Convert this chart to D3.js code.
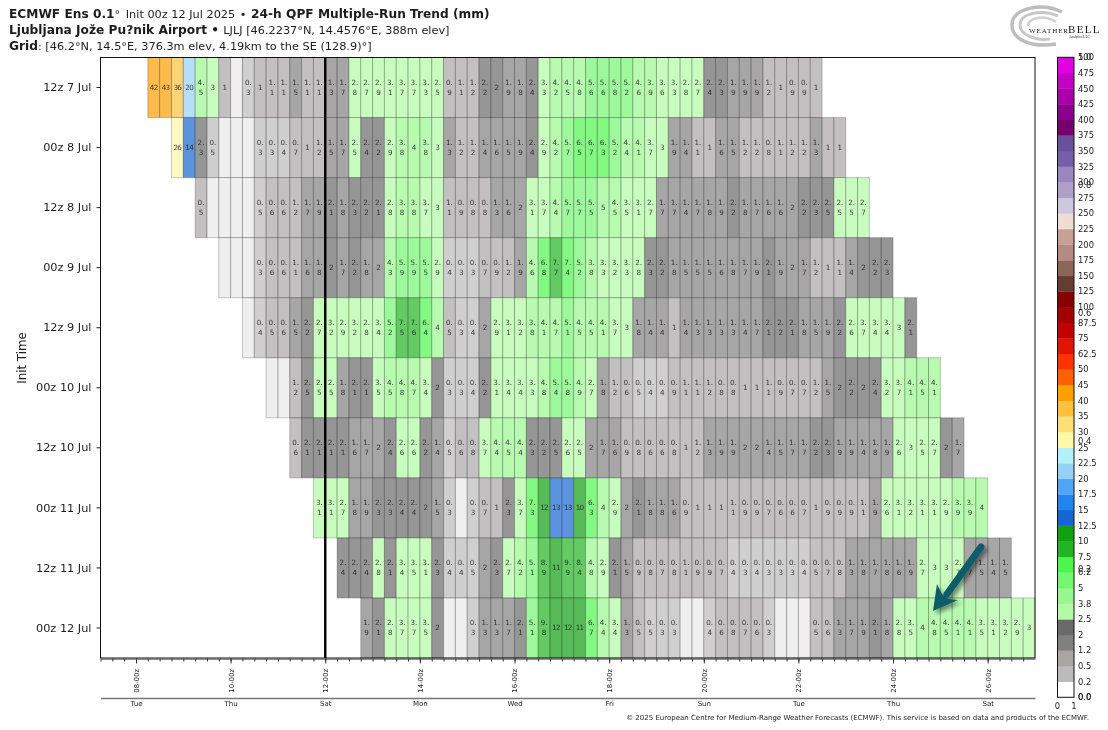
<!DOCTYPE html>
<html>
<head>
<meta charset="utf-8">
<script src="https://cdn.jsdelivr.net/npm/d3@7"></script>
<style>
  html, body { margin: 0; padding: 0; background: #fff; }
  svg { display: block; opacity: 0.999; }
  text { font-family: "DejaVu Sans", sans-serif; fill: #1c1c1c; }
</style>
</head>
<body>
<div id="chart"></div>
<script>
// init runs, newest at the bottom
var runLabels = ["12z 7 Jul", "00z 8 Jul", "12z 8 Jul", "00z 9 Jul", "12z 9 Jul", "00z 10 Jul", "12z 10 Jul", "00z 11 Jul", "12z 11 Jul", "00z 12 Jul"];
var runInits = ["2025-07-07T12", "2025-07-08T00", "2025-07-08T12", "2025-07-09T00", "2025-07-09T12", "2025-07-10T00", "2025-07-10T12", "2025-07-11T00", "2025-07-11T12", "2025-07-12T00"];

// 24-h QPF in mm, one value per 6-hourly step. 0.1 = trace, drawn with no label
var qpf12z07 = [42,43,36,20,4.5,3,1,0.1,0.3,1,1.1,1.1,1.5,1.1,1.1,1.3,1.7,2.8,2.7,2.9,3.1,3.7,3.7,3.3,2.5,0.9,1.1,1.2,2.2,2,1.9,1.8,2.4,3.3,4.2,4.5,4.8,5.6,5.6,5.8,5.2,4.6,3.9,3.6,3.3,2.8,2.7,2.4,2.3,1.9,1.9,1.9,1.2,1,0.9,0.9,1];
var qpf00z08 = [26,14,2.3,0.46,0.1,0.1,0.1,0.3,0.3,0.4,0.7,1,1.2,1.5,1.7,2.5,2.4,2.2,2.9,3.8,4,3.8,3,1.3,1.2,1.2,1.4,1.6,1.5,1.9,2.4,2.9,4.2,5.7,6.5,6.7,6.3,5.2,4.4,4.1,3.7,3,1.9,1.4,1.1,1,1.6,1.5,1.2,1.2,0.8,1.1,1.2,1.2,1.3,1,1];
var qpf12z08 = [0.5,0.1,0.1,0.1,0.1,0.46,0.6,0.6,1.2,1.7,1.9,2.1,1.8,2.3,2.2,2.1,2.8,3.8,3.8,3.7,3,1.1,0.9,0.8,0.8,1.3,1.6,1.96,3.1,3.7,4.4,5.7,5.7,5.5,4.96,4.5,3.5,3.1,2.7,1.7,1.7,1.4,1.7,1.8,1.9,2.2,1.8,1.7,1.6,1.6,1.96,2.2,2.3,2.46,2.5,2.5,2.7];
var qpf00z09 = [0.1,0.1,0.1,0.3,0.6,0.6,1.1,1.6,1.8,2,1.7,2.2,1.8,1.96,4.3,5.9,5.9,5.5,2.9,0.4,0.3,0.3,0.7,0.9,1.2,1.9,4.6,6.8,7.7,7.4,5.2,3.8,3.3,3.2,3.3,2.8,2.3,2.2,1.8,1.5,1.5,1.5,1.6,1.8,1.7,1.9,2.1,1.9,1.96,1.7,1.2,1,1.1,1.4,2,2.2,2.3];
var qpf12z09 = [0.1,0.4,0.5,0.6,1.5,2.2,2.7,3.2,2.9,3.2,2.8,3.4,5.2,7.5,7.6,6.4,4,0.5,0.3,0.4,1.96,2.9,3.1,3.2,3.8,4.1,4.7,5.1,4.5,4.5,4.1,3.7,3,1.8,1.4,1.4,1,1.4,1.3,1.3,1.3,1.3,1.4,1.7,2.1,2.2,2.1,1.8,1.5,1.9,2.2,2.6,3.7,3.4,3.4,3,2.1];
var qpf00z10 = [0.1,0.1,1.2,2.46,2.5,2.5,1.8,2.1,2.1,3.5,4.5,4.8,4.7,3.4,2,0.3,0.3,0.4,2.2,3.1,3.4,3.4,3.3,4.8,5.4,5.8,4.9,2.7,1.8,1.2,0.6,0.46,0.4,0.4,0.9,1.1,1.1,1.2,0.8,0.8,1,1,1.1,0.9,0.7,0.7,1.2,1.5,2,2.2,2,2.4,3.2,3.7,4.1,4.5,4.1];
var qpf12z10 = [0.6,2.1,2.1,2.1,2.1,1.6,1.7,1.96,2.4,2.6,2.6,2.2,1.4,0.46,0.6,0.8,3.7,4.4,4.5,4.4,2.3,2.2,2.46,2.6,2.5,1.96,1.7,1.6,0.9,0.8,0.6,0.6,0.8,1,1.2,1.3,1.9,1.9,1.96,1.96,1.4,1.5,1.7,1.7,2.2,2.3,1.9,1.9,1.4,1.8,1.9,2.6,3,2.5,2.7,2,1.7];
var qpf00z11 = [3.1,3.1,2.7,1.8,1.9,2.3,2.3,2.4,2.4,2,1.5,0.3,0.1,0.3,0.7,1,2.3,3.7,7.3,12,13,13,10,6.3,4,2.9,1.96,2.1,1.8,1.8,1.6,0.9,1,1,1,1.1,0.9,0.9,0.7,0.6,0.6,0.7,1,0.9,0.9,0.9,1.1,1.9,2.6,3.1,3.2,3.1,3.1,2.9,3.9,3.9,4];
var qpf12z11 = [2.4,2.4,2.4,2.8,2.1,3.4,3.5,3.1,2.3,0.4,0.4,0.46,1.96,2.3,2.7,4.2,5.1,8.9,11,9.9,8.4,4.8,2.9,2.1,1.5,0.9,0.8,0.7,0.8,1.1,0.9,0.9,0.7,0.4,0.3,0.4,0.3,0.3,0.3,0.4,0.5,0.7,0.8,1.3,1.8,1.7,1.8,1.6,1.9,2.7,3,3,2.7,1.7,1.5,1.4,1.5];
var qpf00z12 = [1.9,2.1,2.8,3.7,3.7,3.5,2,0.1,0.1,0.3,1.3,1.3,1.7,2.1,5.1,9.8,12,12,11,6.7,4.4,3.4,1.3,0.5,0.46,0.3,0.3,0.1,0.1,0.4,0.6,0.8,0.7,0.6,0.3,0.1,0.1,0.1,0.5,0.6,1.3,1.7,1.9,2.1,1.8,2.8,3.5,4,4.8,4.5,4.1,4.1,3.5,3.1,3.2,2.9,3];
var runValues = [qpf12z07, qpf00z08, qpf12z08, qpf00z09, qpf12z09, qpf00z10, qpf12z10, qpf00z11, qpf12z11, qpf00z12];

// colorbar levels (mm), what gets printed for them, and the bin colours
var levels = [0,0.25,0.5,1.25,2,2.5,3.75,5,6.25,7.5,10,12.5,15,17.5,20,22.5,25,30,35,40,45,50,62.5,75,87.5,100,125,150,175,200,225,250,275,300,325,350,375,400,425,450,475,500];
var levelLabels = ["0.0","0.2","0.5","1.2","2","2.5","3.8","5","6.2","7.5","10","12.5","15","17.5","20","22.5","25","30","35","40","45","50","62.5","75","87.5","100","125","150","175","200","225","250","275","300","325","350","375","400","425","450","475","500"];
var binColors = ["#ffffff","#bbbbbb","#a8a5a5","#808080","#6a6a6a","#b2fba4","#98f88f","#74f770","#4ff54f","#22b422","#10a010","#1565d2","#2185ee","#50a5f5","#96d1fa","#b4f0fa","#fff7aa","#ffe078","#ffc03c","#ffa000","#ff6000","#ff3200","#e11400","#c10000","#a50000","#870000","#643c32","#8c6559","#b48a82","#c8a096","#f0dcd2","#cdc8e0","#afa0c8","#9b87c0","#7460a8","#68509b","#73006e","#8b008b","#aa00aa","#c400c4","#e100e1"];
var normTicks = ["0.0","0.2","0.4","0.6","0.8","1.0"];

var dayTicks = ["2025-07-08","2025-07-10","2025-07-12","2025-07-14","2025-07-16","2025-07-18","2025-07-20","2025-07-22","2025-07-24","2025-07-26"];

var W = 1108, H = 730;
var plot = {left: 100.5, right: 1035, top: 57.5, bottom: 658};
var parseInit = d3.utcParse("%Y-%m-%dT%H");
var parseDay = d3.utcParse("%Y-%m-%d");
var STEP = 6 * 3600 * 1000;

var svg = d3.select("#chart").append("svg").attr("width", W).attr("height", H);

var x = d3.scaleUtc()
  .domain([Date.UTC(2025, 6, 7, 6), Date.UTC(2025, 6, 27, 0)])
  .range([plot.left, plot.right]);
var y = d3.scaleBand().domain(runLabels).range([plot.top, plot.bottom]);

// thresholds skip the 0 level, bin 0 is the trace colour for the cells
var cellColor = d3.scaleThreshold()
  .domain(levels.slice(1))
  .range(["#e8e8e8"].concat(binColors.slice(1)));

function splitLabel(v) {
  if (v < 0.25) return [];
  if (v >= 10) return [String(Math.round(v))];
  var s = v.toFixed(1);
  if (s.slice(-1) == "0") return [s.charAt(0)];
  return [s.charAt(0) + ".", s.charAt(2)];
}

// flatten the runs into one row of cells
var cells = [];
runLabels.forEach(function(run, i) {
  var start = parseInit(runInits[i]).getTime() + 18 * 3600 * 1000;
  runValues[i].forEach(function(v, j) {
    cells.push({run: run, v: v, t0: new Date(start + j * STEP), t1: new Date(start + (j + 1) * STEP)});
  });
});

var cell = svg.append("g").selectAll("g").data(cells).enter().append("g");

cell.append("rect")
  .attr("x", function(d) { return x(d.t0); })
  .attr("y", function(d) { return y(d.run); })
  .attr("width", function(d) { return x(d.t1) - x(d.t0); })
  .attr("height", y.bandwidth())
  .attr("fill", function(d) { return cellColor(d.v); })
  .attr("fill-opacity", 0.7)
  .attr("stroke", "#000")
  .attr("stroke-opacity", 0.22)
  .attr("stroke-width", 1);

cell.each(function(d) {
  var lines = splitLabel(d.v);
  var cx = x(d.t0) + (x(d.t1) - x(d.t0)) / 2;
  var cy = y(d.run) + y.bandwidth() / 2;
  var g = d3.select(this);
  lines.forEach(function(line, n) {
    g.append("text")
      .attr("x", cx)
      .attr("y", cy + (lines.length == 2 ? (n == 0 ? -2.5 : 7) : 2.4))
      .attr("text-anchor", "middle")
      .attr("font-size", 7.2)
      .attr("letter-spacing", line.length == 2 && lines.length == 1 ? -0.7 : 0)
      .attr("fill-opacity", 0.85)
      .text(line);
  });
});

// frame
svg.append("rect")
  .attr("x", plot.left).attr("y", plot.top)
  .attr("width", plot.right - plot.left).attr("height", plot.bottom - plot.top)
  .attr("fill", "none").attr("stroke", "#111").attr("stroke-width", 1);

// model init marker
svg.append("line")
  .attr("x1", x(parseDay("2025-07-12"))).attr("x2", x(parseDay("2025-07-12")))
  .attr("y1", plot.top).attr("y2", plot.bottom)
  .attr("stroke", "#000").attr("stroke-width", 2.4);

// y axis
var yAxis = svg.append("g")
  .attr("transform", "translate(" + plot.left + ",0)")
  .call(d3.axisLeft(y).tickSize(4).tickPadding(5));
yAxis.select(".domain").remove();
yAxis.selectAll("text").attr("font-size", 11.3).attr("font-family", "DejaVu Sans").attr("fill", "#1c1c1c");
yAxis.selectAll("line").attr("stroke", "#222");

svg.append("text")
  .attr("transform", "translate(26,358) rotate(-90)")
  .attr("text-anchor", "middle")
  .attr("font-size", 11.8)
  .text("Init Time");

// x axis, 6-hourly minor ticks and labelled ticks every 2 days
var minorTicks = d3.utcHour.every(6).range(x.domain()[0], x.domain()[1]);
var xMinor = svg.append("g")
  .attr("transform", "translate(0," + (plot.bottom + 0.5) + ")")
  .call(d3.axisBottom(x).tickValues(minorTicks).tickSize(3).tickSizeOuter(0).tickFormat(""));
xMinor.select(".domain").attr("stroke", "#666").attr("stroke-width", 1.5);
xMinor.selectAll("line").attr("stroke", "#333");

var xMajor = svg.append("g")
  .attr("transform", "translate(0," + (plot.bottom + 0.5) + ")")
  .call(d3.axisBottom(x).tickValues(dayTicks.map(parseDay)).tickSize(5).tickFormat(d3.utcFormat("%d-%Hz")));
xMajor.select(".domain").remove();
xMajor.selectAll("line").attr("stroke", "#333");
xMajor.selectAll("text")
  .attr("font-size", 6.9)
  .attr("font-family", "DejaVu Sans")
  .attr("fill", "#1c1c1c")
  .attr("text-anchor", "end")
  .attr("transform", "rotate(-90)")
  .attr("x", -10.5)
  .attr("y", 0)
  .attr("dy", "0.35em");

// second x axis with week days
var xDays = svg.append("g")
  .attr("transform", "translate(0,698)")
  .call(d3.axisBottom(x).tickValues(dayTicks.map(parseDay)).tickSize(0).tickPadding(3).tickFormat(d3.utcFormat("%a")));
xDays.select(".domain").attr("stroke", "#777").attr("stroke-width", 1.5);
xDays.selectAll("text").attr("font-size", 7).attr("font-family", "DejaVu Sans").attr("fill", "#1c1c1c");

// titles
function titleLine(yPos, parts) {
  var t = svg.append("text").attr("x", 9).attr("y", yPos);
  parts.forEach(function(p) {
    t.append("tspan")
      .attr("font-weight", p[1] ? "bold" : "normal")
      .attr("font-size", p[1] ? 12.2 : 11.3)
      .attr("dx", p[2] || 0)
      .text(p[0]);
  });
}
titleLine(18, [["ECMWF Ens 0.1", true], ["° ", false], ["Init 00z 12 Jul 2025 ", false, 2], ["• ", false, 1], ["24-h QPF Multiple-Run Trend (mm)", true, 1]]);
titleLine(34, [["Ljubljana Jože Pu?nik Airport • ", true], ["LJLJ [46.2237°N, 14.4576°E, 388m elev]", false]]);
titleLine(49.5, [["Grid", true], [": [46.2°N, 14.5°E, 376.3m elev, 4.19km to the SE (128.9)°]", false]]);

svg.append("text")
  .attr("x", 1089).attr("y", 719.5)
  .attr("text-anchor", "end")
  .attr("font-size", 7)
  .text("© 2025 European Centre for Medium-Range Weather Forecasts (ECMWF). This service is based on data and products of the ECMWF.");

// colorbar, equal height bins
var barX = 1057.5, barW = 16.5;
var barY = d3.scaleLinear().domain([0, levels.length - 1]).range([697.3, 57.3]);
var bar = svg.append("g");
bar.selectAll("rect").data(binColors).enter().append("rect")
  .attr("x", barX)
  .attr("y", function(d, i) { return barY(i + 1); })
  .attr("width", barW)
  .attr("height", function(d, i) { return barY(i) - barY(i + 1) + 0.3; })
  .attr("fill", function(d) { return d; });
bar.append("rect")
  .attr("x", barX).attr("y", barY.range()[1])
  .attr("width", barW).attr("height", barY.range()[0] - barY.range()[1])
  .attr("fill", "none").attr("stroke", "#111");
bar.selectAll(".lev").data(levelLabels).enter().append("text")
  .attr("class", "lev")
  .attr("x", 1078)
  .attr("y", function(d, i) { return barY(i) + 3; })
  .attr("font-size", 8.4)
  .text(function(d) { return d; });

// matplotlib's default 0-1 ticks are left on the bar
var normY = d3.scaleLinear().domain([0, 1]).range(barY.range());
bar.selectAll(".norm").data(normTicks).enter().append("text")
  .attr("class", "norm")
  .attr("x", 1078)
  .attr("y", function(d) { return normY(+d) + 3; })
  .attr("font-size", 8.4)
  .text(function(d) { return d; });
bar.selectAll(".unit").data(["0", "1"]).enter().append("text")
  .attr("class", "unit")
  .attr("x", function(d) { return barX + (+d) * barW; })
  .attr("y", 709)
  .attr("text-anchor", "middle")
  .attr("font-size", 8.4)
  .text(function(d) { return d; });

// annotation arrow
var defs = svg.append("defs");
defs.append("filter").attr("id", "arrowShadow")
  .attr("x", "-30%").attr("y", "-30%").attr("width", "170%").attr("height", "170%")
  .append("feDropShadow")
  .attr("dx", 3).attr("dy", 3).attr("stdDeviation", 2)
  .attr("flood-color", "#000").attr("flood-opacity", 0.45);
var arrow = svg.append("g").attr("filter", "url(#arrowShadow)");
arrow.append("path")
  .attr("d", "M981,547 L947,594")
  .attr("stroke", "#0f5c6b").attr("stroke-width", 7).attr("stroke-linecap", "round").attr("fill", "none");
arrow.append("path")
  .attr("d", "M933,611 L937,584 L942,594 L949,599 L958,600 Z")
  .attr("fill", "#0f5c6b");

// logo, top right
var logo = svg.append("g").attr("fill", "none");
logo.append("path").attr("d", "M1062,12 C1042,2 1012,8 1012,25 C1012,40 1032,48 1056,44").attr("stroke", "#bdbdbd").attr("stroke-width", 3.5);
logo.append("path").attr("d", "M1058,16 C1042,9 1020,13 1020,25 C1020,34 1034,41 1050,39").attr("stroke", "#c8c8c8").attr("stroke-width", 3);
logo.append("path").attr("d", "M1056,22 C1044,14 1028,18 1028,26").attr("stroke", "#d0d0d0").attr("stroke-width", 2.5);
var logoText = svg.append("g");
logoText.append("text").attr("x", 1029).attr("y", 33).attr("font-size", 7).attr("textLength", 39).attr("fill", "#666").style("font-family", "Liberation Serif").text("WEATHER");
logoText.append("text").attr("x", 1068).attr("y", 33).attr("font-size", 11).attr("letter-spacing", 1.3).attr("fill", "#666").style("font-family", "Liberation Serif").text("BELL");
logoText.append("text").attr("x", 1069).attr("y", 38).attr("font-size", 3.5).attr("fill", "#666").style("font-family", "Liberation Serif").text("Analytics LLC");
</script>
</body>
</html>
